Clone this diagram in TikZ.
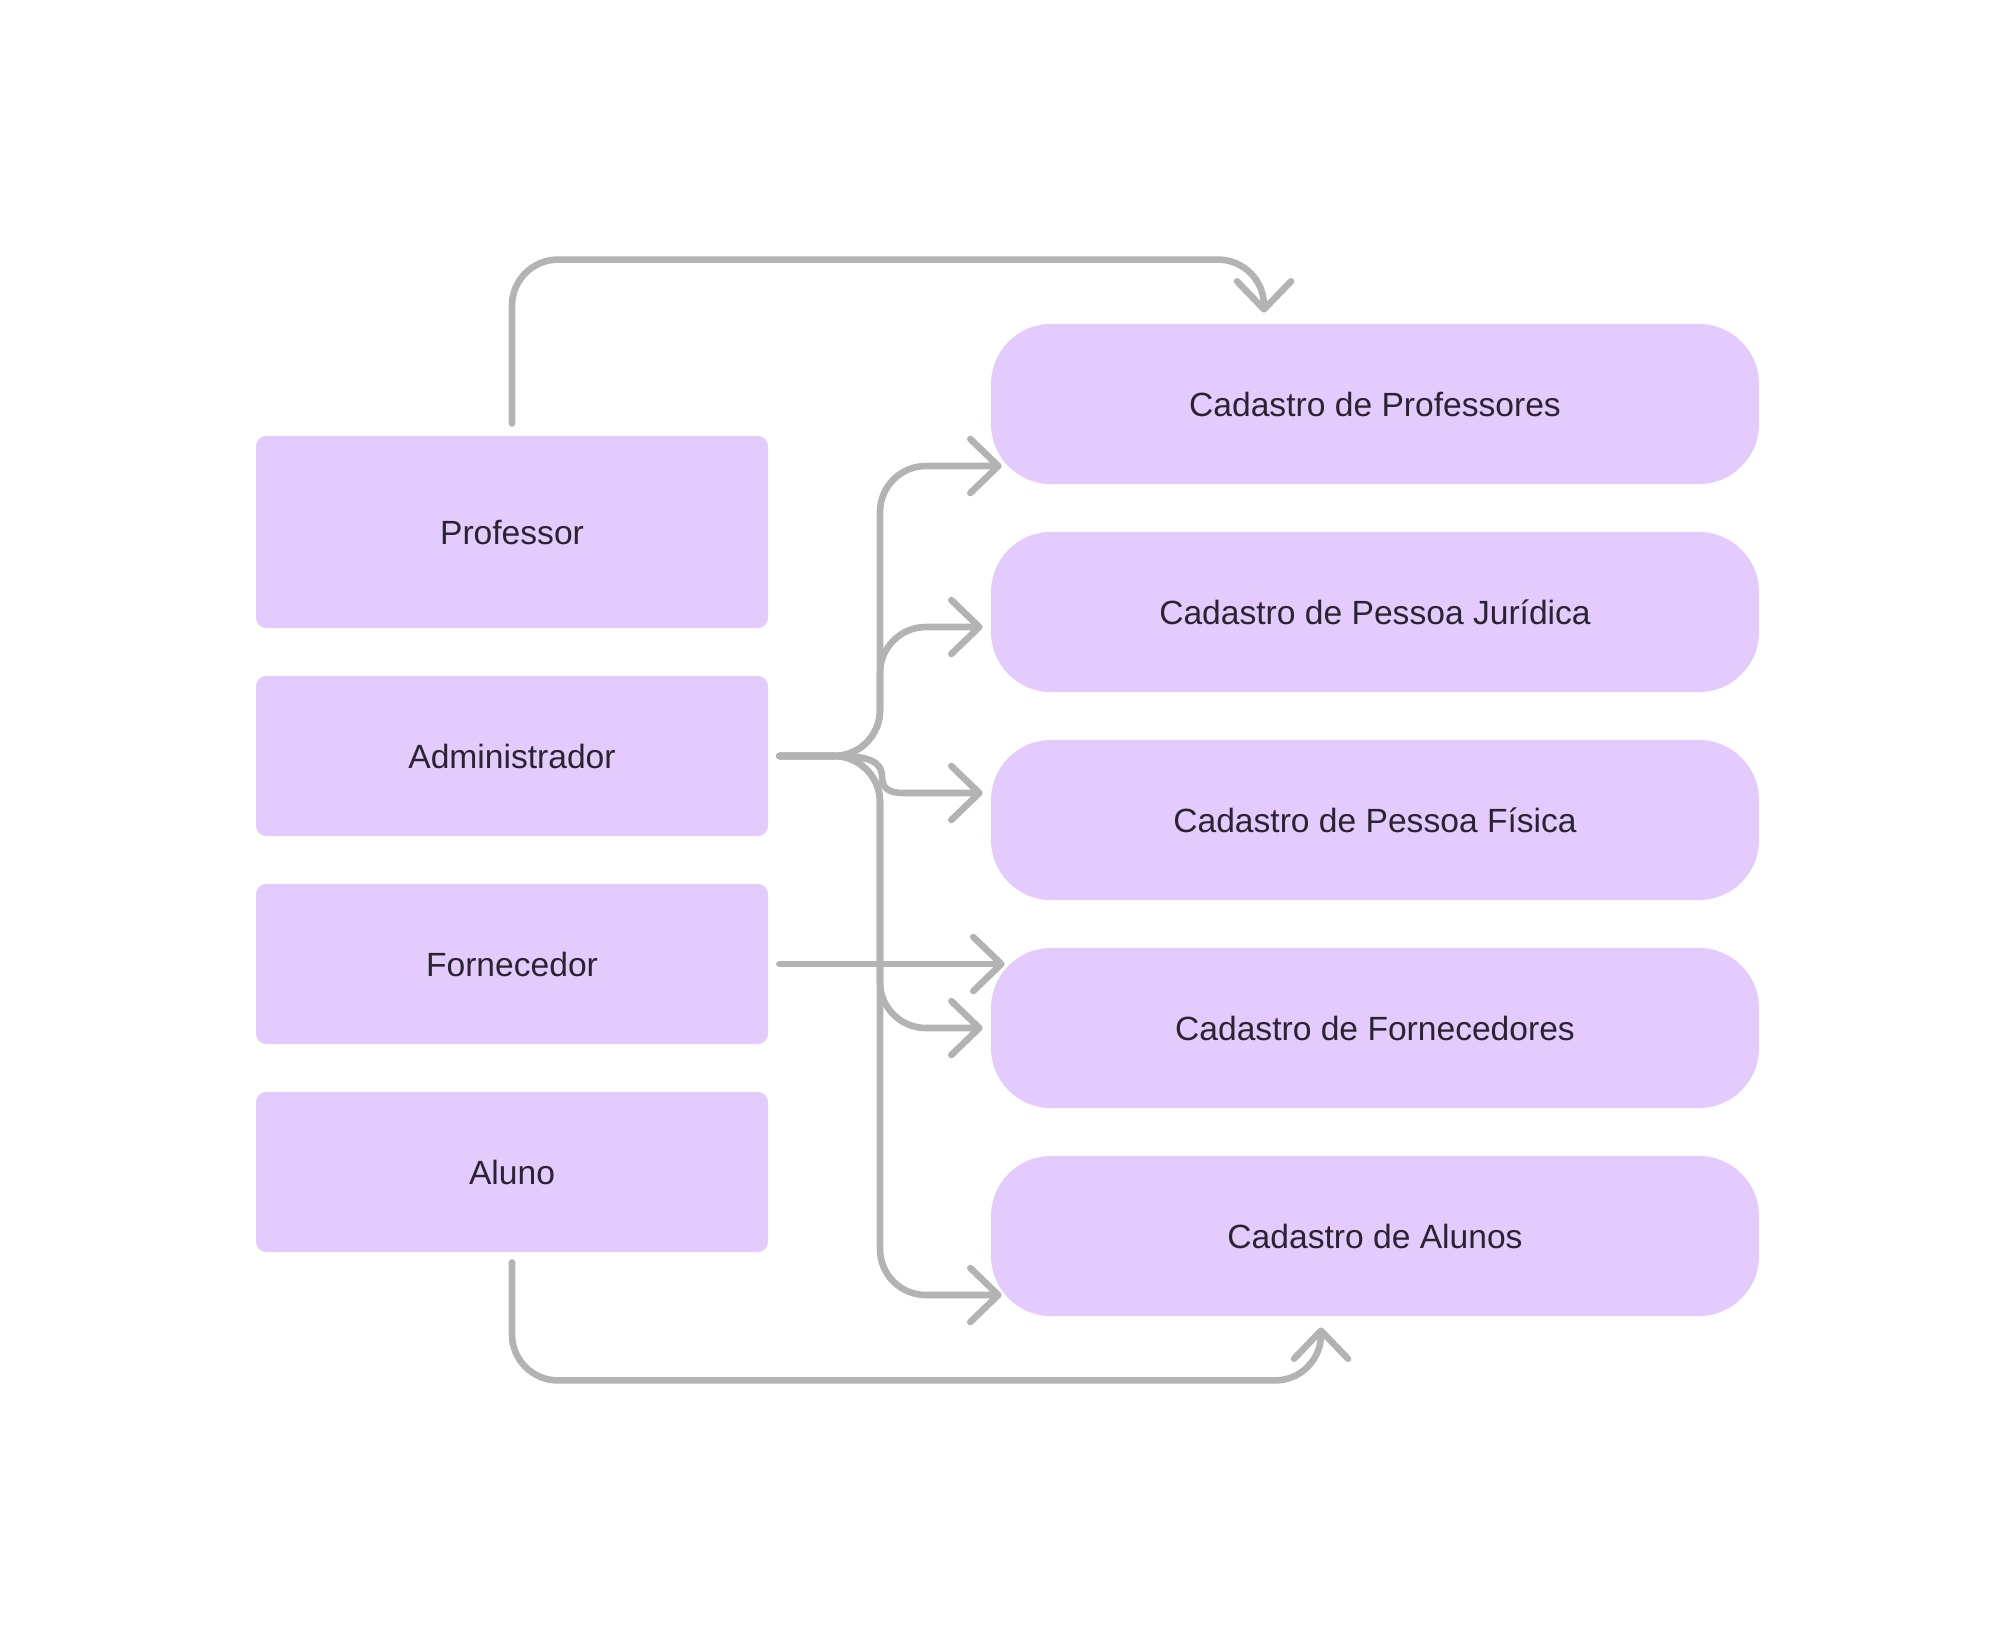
\documentclass[tikz,border=0pt]{standalone}
\usepackage{fontspec}
\setmainfont{Liberation Sans}
\usetikzlibrary{arrows.meta,calc}
\definecolor{boxfill}{HTML}{E3CCFD}
\definecolor{linegray}{HTML}{B3B3B3}
\definecolor{txt}{HTML}{2B2430}
\begin{document}
\begin{tikzpicture}[x=0.5pt,y=-0.5pt,
  lbl/.style={text=txt,font=\fontsize{16.8}{20}\selectfont},
  role/.style={lbl,fill=boxfill,draw=none,rounded corners=5pt,minimum width=256pt,minimum height=80pt,inner sep=0pt},
  reg/.style={lbl,fill=boxfill,draw=none,rounded corners=30pt,minimum width=384pt,minimum height=80pt,inner sep=0pt},
  conn/.style={draw=linegray,line width=3.3pt,line cap=round,line join=round,rounded corners=23pt,
    -{Straight Barb[length=14pt,width=27pt,round]}}
]
\useasboundingbox (0,0) rectangle (2016,1640);

\node[role,minimum height=96pt] (prof) at (512,532) {Professor};
\node[role] (adm) at (512,756) {Administrador};
\node[role] (forn) at (512,964) {Fornecedor};
\node[role] (alu) at (512,1172) {Aluno};

\node[reg] (cpro) at (1375,404) {Cadastro de Professores};
\node[reg] (cpj) at (1375,612) {Cadastro de Pessoa Jurídica};
\node[reg] (cpf) at (1375,820) {Cadastro de Pessoa Física};
\node[reg] (cfor) at (1375,1028) {Cadastro de Fornecedores};
\node[reg] (calu) at (1375,1236) {Cadastro de Alunos};

\coordinate (aS) at ($(adm.east)+(11,0)$);
\coordinate (fS) at ($(forn.east)+(11,0)$);
\coordinate (pS) at ($(prof.north)+(0,-12)$);
\coordinate (luS) at ($(alu.south)+(0,10)$);

% Administrador branches
\draw[conn] (aS) -| (880,466) -- ($(cpro.west)+(11,62)$);
\draw[conn] (aS) -| (880,627) -- ($(cpj.west)+(-8,15)$);
\draw[conn,sharp corners] (aS) -- (840,756) .. controls (868,756) and (882,762) .. (882,776)
   .. controls (882,788) and (888,793) .. (904,793) -- ($(cpf.west)+(-8,-27)$);
\draw[conn] (aS) -| (880,1028) -- ($(cfor.west)+(-8,0)$);
\draw[conn] (aS) -| (880,1295) -- ($(calu.west)+(11,59)$);

% Fornecedor
\draw[conn] (fS) -- ($(cfor.west)+(14,-64)$);

% Professor top
\draw[conn] (pS) |- ($(cpro.north)+(-111,-64)$) -- ($(cpro.north)+(-111,-11)$);

% Aluno bottom
\draw[conn] (luS) |- ($(calu.south)+(-54,64)$) -- ($(calu.south)+(-54,11)$);
\end{tikzpicture}
\end{document}
